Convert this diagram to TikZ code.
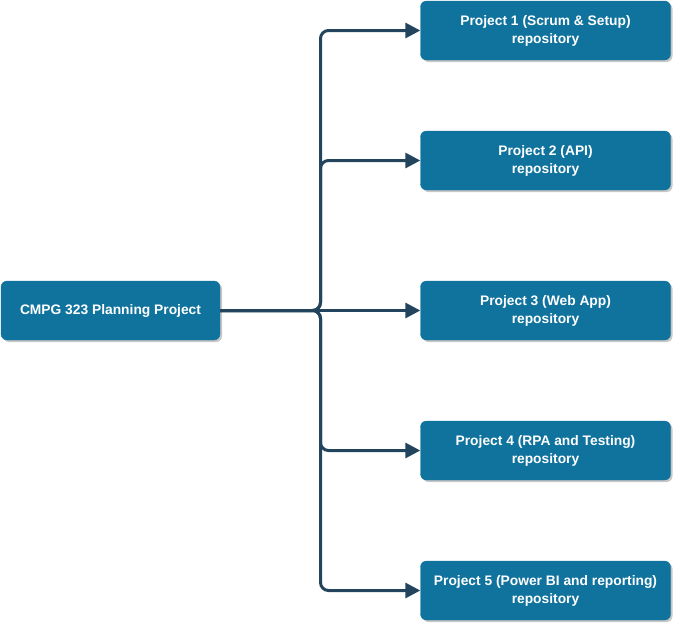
\documentclass[tikz,border=0pt]{standalone}
\usepackage{fontspec}
\setmainfont{Liberation Sans}
\usetikzlibrary{arrows.meta,shadows}
\definecolor{boxblue}{HTML}{10739E}
\definecolor{edgeblue}{HTML}{23445D}
\tikzset{
  box/.style={fill=boxblue, draw=boxblue, rounded corners=6pt, text=white,
    font=\fontsize{13.8}{18}\selectfont\bfseries, align=center, inner sep=0pt,
    drop shadow={shadow xshift=2pt, shadow yshift=-2pt, fill=black, opacity=0.22}},
  mainbox/.style={box, minimum width=219pt, minimum height=59pt},
  projbox/.style={box, minimum width=250pt, minimum height=59pt},
  edge/.style={draw=edgeblue, line width=3pt, rounded corners=8pt,
    -{Triangle[length=15pt,width=15pt]}}
}
\begin{document}
\begin{tikzpicture}[x=1pt,y=-1pt]
\useasboundingbox (0,0) rectangle (674,624);
\node[mainbox] (main) at (110.5,310.5) {CMPG 323 Planning Project};
\node[projbox] (p1) at (545.5,30.5) {Project 1 (Scrum \& Setup)\\repository};
\node[projbox] (p2) at (545.5,160.5) {Project 2 (API)\\repository};
\node[projbox] (p3) at (545.5,310.5) {Project 3 (Web App)\\repository};
\node[projbox] (p4) at (545.5,450.5) {Project 4 (RPA and Testing)\\repository};
\node[projbox] (p5) at (545.5,590.5) {Project 5 (Power BI and reporting)\\repository};
\coordinate (tr) at (320.5,310.5);
\draw[edge] (main.east) -- (tr) |- (p1.west);
\draw[edge] (main.east) -- (tr) |- (p2.west);
\draw[edge] (main.east) -- (p3.west);
\draw[edge] (main.east) -- (tr) |- (p4.west);
\draw[edge] (main.east) -- (tr) |- (p5.west);
\end{tikzpicture}
\end{document}
